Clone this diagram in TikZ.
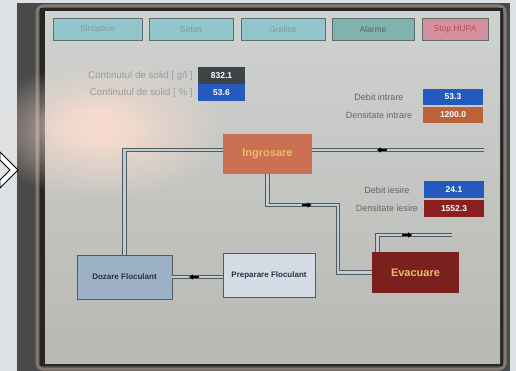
\documentclass[tikz,border=0pt]{standalone}
\usepackage{fontspec}
\setmainfont{Liberation Sans}
\usetikzlibrary{decorations.markings,fadings}

\definecolor{stripcol}{HTML}{DCE2E6}
\definecolor{bezelcol}{HTML}{4A4A4A}
\definecolor{framecol}{HTML}{85796F}
\definecolor{screentop}{HTML}{D0D2D0}
\definecolor{screenbot}{HTML}{B8B9B4}
\definecolor{glarecol}{HTML}{F8DCCE}
\definecolor{tabedge}{HTML}{5D6E70}
\definecolor{tabteal}{HTML}{92C6CC}
\definecolor{tabdark}{HTML}{80B2AE}
\definecolor{tabpink}{HTML}{D5909E}
\definecolor{tabtext}{HTML}{7A9AA0}
\definecolor{lblgray}{HTML}{616668}
\definecolor{lblfaint}{HTML}{989C9C}
\definecolor{valgray}{HTML}{3C4447}
\definecolor{valblue}{HTML}{2459BE}
\definecolor{valorange}{HTML}{BD6238}
\definecolor{valred}{HTML}{8A1F22}
\definecolor{ingrcol}{HTML}{CB7052}
\definecolor{evaccol}{HTML}{7B1F1F}
\definecolor{goldtext}{HTML}{E3C06A}
\definecolor{dozcol}{HTML}{9CB0C6}
\definecolor{prepcol}{HTML}{D6DCE6}
\definecolor{boxtext}{HTML}{2A3040}
\definecolor{pipeedge}{HTML}{4F5C64}
\definecolor{pipefill}{HTML}{C6CCCE}

\tikzfading[name=glarefade, inner color=transparent!0, outer color=transparent!100]

\begin{document}
\begin{tikzpicture}[x=1pt,y=-1pt,
  tab/.style={draw=tabedge, fill=tabteal, minimum width=#1, minimum height=22pt,
    inner sep=0pt, text=tabtext, font=\fontsize{8.5}{9}\selectfont},
  lbl/.style={text=lblgray, inner sep=0pt, font=\fontsize{9}{10}\selectfont},
  val/.style={fill=#1, text=white, minimum width=60pt, minimum height=17pt,
    inner sep=0pt, font=\bfseries\fontsize{8.5}{9}\selectfont},
  proc/.style={fill=#1, minimum height=41pt, inner sep=0pt, text=goldtext,
    font=\bfseries\fontsize{11}{12}\selectfont},
  floc/.style={draw=gray!70!black, fill=#1, minimum height=44pt, inner sep=0pt,
    text=boxtext, font=\bfseries\fontsize{8}{9}\selectfont},
  pipe/.style={draw=pipeedge, line width=0.75pt, double=pipefill, double distance=2.6pt},
  flowmark/.style={postaction={decorate}, decoration={markings, mark=at position #1 with {
    \fill[black] (-6pt,-1pt) rectangle (0pt,1pt);
    \fill[black] (4pt,0pt) -- (0pt,-2.6pt) -- (0pt,2.6pt) -- cycle;}}}]
\useasboundingbox (0,0) rectangle (516,371);

% photo of the panel
\fill[stripcol] (0,0) rectangle (516,371);
\fill[bezelcol] (17,3) rectangle (510,371);
\draw[framecol, line width=3pt, rounded corners=6pt] (37,6) rectangle (505,369);
\fill[black!85] (40,8) rectangle (503,366);
\shade[top color=screentop, bottom color=screenbot] (45,12) rectangle (500,363);
\fill[glarecol, path fading=glarefade] (105,130) ellipse (120 and 70);
\fill[glarecol, path fading=glarefade] (95,125) ellipse (60 and 35);
\draw[black, fill=white, line width=0.8pt] (0,152) -- (18,170) -- (0,188) -- (0,180) -- (10,170) -- (0,160) -- cycle;

% menu bar
\node[tab=89pt] (sinoptice) at (97.5,29) {Sinoptice};
\node[tab=84pt] (setari) at (191,29) {Setari};
\node[tab=84pt] (grafice) at (283,29) {Grafice};
\node[tab=82pt, fill=tabdark, text=lblgray] (alarme) at (373,29) {Alarme};
\node[tab=66pt, fill=tabpink, text=red!35!gray] (stop) at (455,29) {Stop HUPA};

% measured values
\node[lbl, text=lblfaint, anchor=east, font=\fontsize{9.8}{11}\selectfont] (solidgl) at (193,76) {Continutul de solid [ g/l ]};
\node[val=valgray, minimum width=47pt] (vsolidgl) at (221.5,76) {832.1};
\node[lbl, text=lblfaint, anchor=east, font=\fontsize{9.8}{11}\selectfont] (solidpc) at (193,93) {Continutul de solid [ \% ]};
\node[val=valblue, minimum width=47pt] (vsolidpc) at (221.5,93) {53.6};

\node[lbl] (debitin) at (379,97) {Debit intrare};
\node[val=valblue, minimum height=16pt] (vdebitin) at (453,97) {53.3};
\node[lbl] (densin) at (379,115) {Densitate intrare};
\node[val=valorange, minimum height=16pt] (vdensin) at (453,115) {1200.0};

\node[lbl] (debitout) at (387,190) {Debit iesire};
\node[val=valblue] (vdebitout) at (454,190) {24.1};
\node[lbl] (densout) at (387,208.5) {Densitate iesire};
\node[val=valred] (vdensout) at (454,208.5) {1552.3};

% process
\node[proc=ingrcol, minimum width=89pt, minimum height=40pt] (ingr) at (267.5,154) {Ingrosare};
\node[proc=evaccol, minimum width=87pt] (evac) at (415.5,272.5) {Evacuare};
\node[floc=dozcol, minimum width=95pt] (doz) at (124.5,277) {Dozare Floculant};
\node[floc=prepcol, minimum width=92pt] (prep) at (269,275) {Preparare Floculant};

\coordinate (feed) at (484,150);
\coordinate (bend) at (338,205);
\coordinate (outlet) at (452,235);

\path[pipe, flowmark=0.6] (feed) -- (feed -| ingr.east);
\path[pipe] (ingr.west |- feed) -- (doz.north |- feed) -- (doz.north);
\path[pipe, flowmark=0.35] (ingr.south) |- (bend) -- (bend |- evac.west) -- (evac.west);
\path[pipe, flowmark=0.52] ([xshift=-38pt]evac.north) |- (outlet);
\path[pipe, flowmark=0.59] (prep.west |- doz.east) -- (doz.east);
\end{tikzpicture}
\end{document}
